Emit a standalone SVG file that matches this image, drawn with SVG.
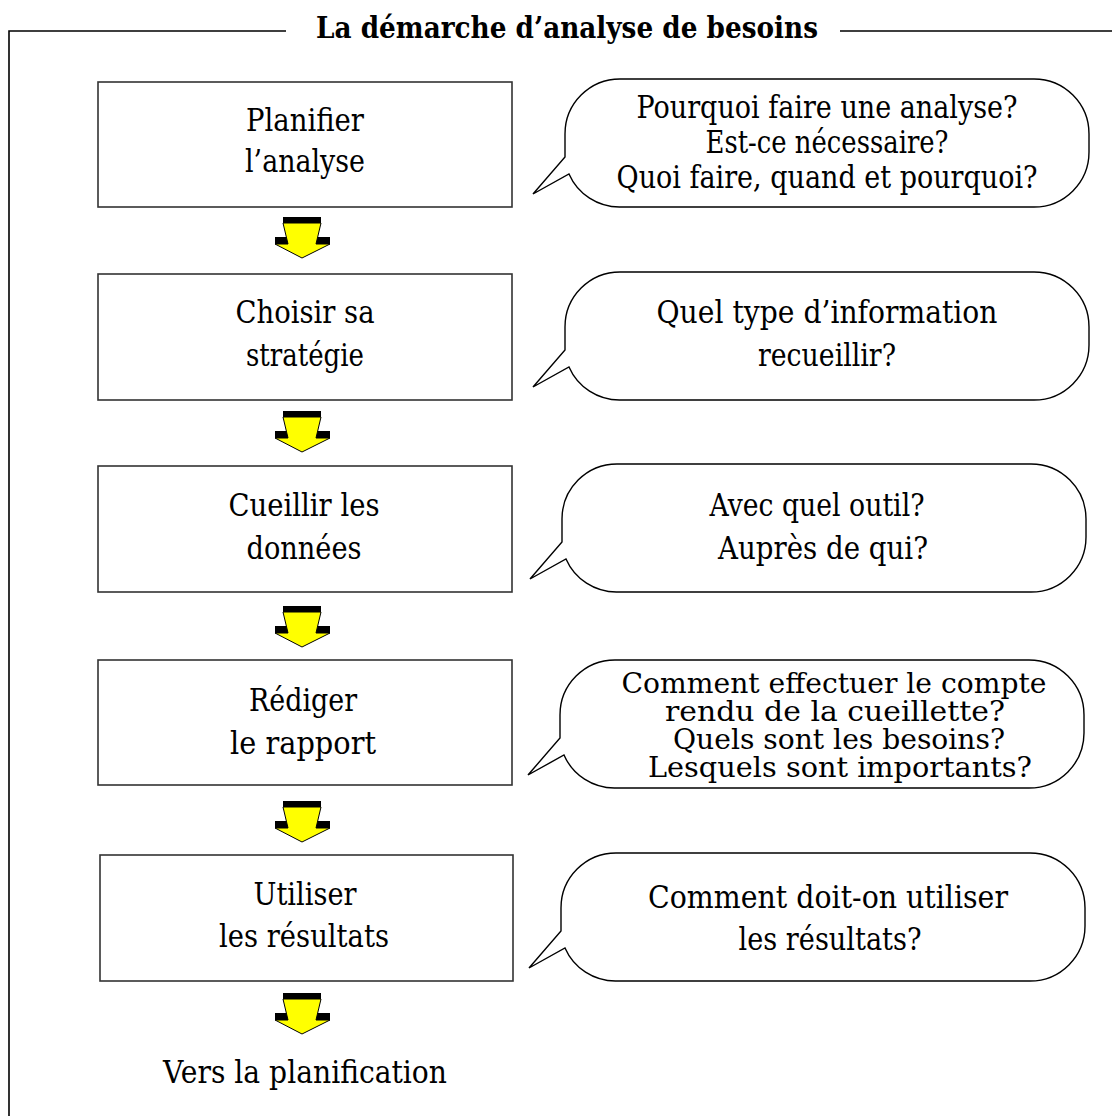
<svg xmlns="http://www.w3.org/2000/svg" width="1112" height="1116" viewBox="0 0 1112 1116">
<style>
.frame{fill:none;stroke:#000;stroke-width:1.6}
.box{fill:#fff;stroke:#333;stroke-width:1.6}
.bub{fill:#fff;stroke:#000;stroke-width:1.4}
.t{font-family:"DejaVu Serif","Liberation Serif",serif;font-size:31px;fill:#000;text-anchor:middle}
.s{font-size:27px}
.title{font-family:"DejaVu Serif","Liberation Serif",serif;font-size:29px;font-weight:bold;fill:#000}
.ay{fill:#ffff00;stroke:#000;stroke-width:1}
.ak{fill:#000}
</style>
<defs>
<g id="arrow">
<rect class="ak" x="-19" y="0" width="38" height="6"/>
<rect class="ak" x="-27" y="20" width="55" height="7"/>
<polygon class="ay" points="-19,6 19,6 14,27 28,27 0,41 -27,27 -14,27"/>
</g>
</defs>
<g id="frame">
<path class="frame" d="M9,1116 V31 H286 M840,31 H1112"/>
<text class="title" x="316" y="38" textLength="502" lengthAdjust="spacingAndGlyphs">La démarche d’analyse de besoins</text>
</g>
<g id="connectors">
<use href="#arrow" x="302" y="217"/>
<use href="#arrow" x="302" y="411"/>
<use href="#arrow" x="302" y="606"/>
<use href="#arrow" x="302" y="801"/>
<use href="#arrow" x="302" y="993"/>
</g>
<g id="box1">
<rect class="box" x="98" y="82" width="414" height="125"/>
<text class="t" x="305" y="131" textLength="118" lengthAdjust="spacingAndGlyphs">Planifier</text>
<text class="t" x="305" y="172" textLength="120" lengthAdjust="spacingAndGlyphs">l’analyse</text>
</g>
<g id="box2">
<rect class="box" x="98" y="274" width="414" height="126"/>
<text class="t" x="305" y="323" textLength="139" lengthAdjust="spacingAndGlyphs">Choisir sa</text>
<text class="t" x="305" y="366" textLength="118" lengthAdjust="spacingAndGlyphs">stratégie</text>
</g>
<g id="box3">
<rect class="box" x="98" y="466" width="414" height="126"/>
<text class="t" x="304" y="516" textLength="151" lengthAdjust="spacingAndGlyphs">Cueillir les</text>
<text class="t" x="304" y="559" textLength="115" lengthAdjust="spacingAndGlyphs">données</text>
</g>
<g id="box4">
<rect class="box" x="98" y="660" width="414" height="125"/>
<text class="t" x="303" y="711" textLength="108" lengthAdjust="spacingAndGlyphs">Rédiger</text>
<text class="t" x="303" y="754" textLength="146" lengthAdjust="spacingAndGlyphs">le rapport</text>
</g>
<g id="box5">
<rect class="box" x="100" y="855" width="413" height="126"/>
<text class="t" x="305" y="905" textLength="103" lengthAdjust="spacingAndGlyphs">Utiliser</text>
<text class="t" x="304" y="947" textLength="170" lengthAdjust="spacingAndGlyphs">les résultats</text>
</g>
<g id="end">
<text class="t" x="305" y="1083" textLength="284" lengthAdjust="spacingAndGlyphs">Vers la planification</text>
</g>
<g id="bubble1">
<path class="bub" d="M620,79 H1034 A55,55 0 0 1 1089,134 V152 A55,55 0 0 1 1034,207 H620 A55,55 0 0 1 569,174 L533,194 L565,157 V134 A55,55 0 0 1 620,79 Z"/>
<text class="t" x="827" y="118" textLength="381" lengthAdjust="spacingAndGlyphs">Pourquoi faire une analyse?</text>
<text class="t" x="827" y="153" textLength="243" lengthAdjust="spacingAndGlyphs">Est-ce nécessaire?</text>
<text class="t" x="827" y="188" textLength="421" lengthAdjust="spacingAndGlyphs">Quoi faire, quand et pourquoi?</text>
</g>
<g id="bubble2">
<path class="bub" d="M620,272 H1034 A55,55 0 0 1 1089,327 V345 A55,55 0 0 1 1034,400 H620 A55,55 0 0 1 569,367 L533,387 L565,350 V327 A55,55 0 0 1 620,272 Z"/>
<text class="t" x="827" y="323" textLength="341" lengthAdjust="spacingAndGlyphs">Quel type d’information</text>
<text class="t" x="827" y="366" textLength="138" lengthAdjust="spacingAndGlyphs">recueillir?</text>
</g>
<g id="bubble3">
<path class="bub" d="M617,464 H1031 A55,55 0 0 1 1086,519 V537 A55,55 0 0 1 1031,592 H617 A55,55 0 0 1 566,559 L530,579 L562,542 V519 A55,55 0 0 1 617,464 Z"/>
<text class="t" x="817" y="516" textLength="215" lengthAdjust="spacingAndGlyphs">Avec quel outil?</text>
<text class="t" x="823" y="559" textLength="210" lengthAdjust="spacingAndGlyphs">Auprès de qui?</text>
</g>
<g id="bubble4">
<path class="bub" d="M615,660 H1029 A55,55 0 0 1 1084,715 V733 A55,55 0 0 1 1029,788 H615 A55,55 0 0 1 564,755 L528,775 L560,738 V715 A55,55 0 0 1 615,660 Z"/>
<text class="t s" x="834" y="693" textLength="425" lengthAdjust="spacingAndGlyphs">Comment effectuer le compte</text>
<text class="t s" x="835" y="721" textLength="340" lengthAdjust="spacingAndGlyphs">rendu de la cueillette?</text>
<text class="t s" x="839" y="749" textLength="332" lengthAdjust="spacingAndGlyphs">Quels sont les besoins?</text>
<text class="t s" x="840" y="777" textLength="384" lengthAdjust="spacingAndGlyphs">Lesquels sont importants?</text>
</g>
<g id="bubble5">
<path class="bub" d="M616,853 H1030 A55,55 0 0 1 1085,908 V926 A55,55 0 0 1 1030,981 H616 A55,55 0 0 1 565,948 L529,968 L561,931 V908 A55,55 0 0 1 616,853 Z"/>
<text class="t" x="828" y="908" textLength="360" lengthAdjust="spacingAndGlyphs">Comment doit-on utiliser</text>
<text class="t" x="830" y="950" textLength="183" lengthAdjust="spacingAndGlyphs">les résultats?</text>
</g>
</svg>
